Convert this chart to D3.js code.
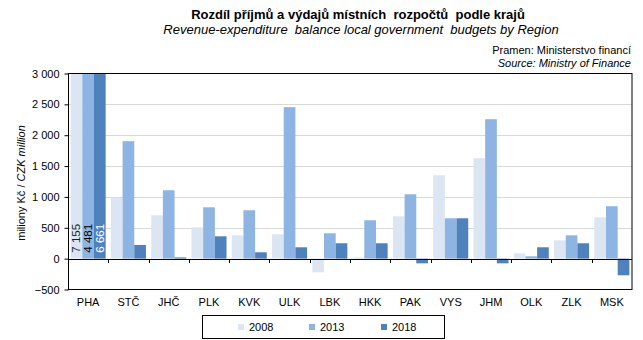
<!DOCTYPE html>
<html><head><meta charset="utf-8">
<script src="https://cdn.jsdelivr.net/npm/d3@7"></script>
<style>
body{margin:0;background:#fff;}
svg{display:block;font-family:"Liberation Sans",Arial,sans-serif;}
</style></head>
<body><svg id="c" width="643" height="340"></svg>
<script>
const categories = ["PHA","STČ","JHČ","PLK","KVK","ULK","LBK","HKK","PAK","VYS","JHM","OLK","ZLK","MSK"];
const seriesNames = ["2008","2013","2018"];
const values2008 = [7155, 984, 703, 508, 378, 395, -222, 20, 686, 1351, 1627, 86, 297, 670];
const values2013 = [4481, 1903, 1108, 832, 784, 2454, 411, 622, 1043, 654, 2259, 38, 378, 849];
const values2018 = [6661, 222, 20, 362, 103, 184, 249, 249, -76, 654, -76, 184, 249, -270];
const yTicks = [-500, 0, 500, 1000, 1500, 2000, 2500, 3000];
const colors = ["#dce6f2", "#8db4e2", "#4f81bd"];
const labelColors = ["#1a1a2e", "#000000", "#ffffff"];

const seriesValues = [values2008, values2013, values2018];
const svg = d3.select("#c");
const L = 68, R = 632, T = 73.5, B = 289.5;

const x0 = d3.scaleBand().domain(categories).range([L, R]).padding(0);
const bw = x0.bandwidth();
const gap = bw * 0.15 / 1.15 / 2;
const x1 = d3.scaleBand().domain(seriesNames).range([gap, bw - gap]).padding(0);
const y = d3.scaleLinear().domain([-500, 3000]).range([B, T]);
const fmt = v => d3.format(",")(v).replace(/,/g, " ");

// gridlines
svg.append("g").selectAll("line").data(yTicks.filter(t => t > -500 && t < 3000 && t !== 0)).join("line")
  .attr("x1", L).attr("x2", R).attr("y1", d => Math.round(y(d)) + 0.5).attr("y2", d => Math.round(y(d)) + 0.5)
  .attr("stroke", "#d9d9d9").attr("stroke-width", 1);

// bars
const g = svg.append("g");
seriesNames.forEach((s, si) => {
  g.selectAll(".b" + si).data(categories).join("rect")
    .attr("x", c => x0(c) + x1(s))
    .attr("width", x1.bandwidth())
    .attr("y", (c, i) => y(Math.min(3000, Math.max(0, seriesValues[si][i]))))
    .attr("height", (c, i) => Math.abs(y(Math.min(3000, seriesValues[si][i])) - y(0)))
    .attr("fill", colors[si]);
});

// labels for clipped bars (values beyond axis max)
seriesNames.forEach((s, si) => {
  categories.forEach((c, i) => {
    const v = seriesValues[si][i];
    if (v > 3000) {
      const cx = x0(c) + x1(s) + x1.bandwidth() / 2;
      const by = y(0) - 6;
      svg.append("text").attr("transform", `translate(${cx + 4},${by}) rotate(-90)`)
        .attr("font-size", 11.5).attr("fill", labelColors[si]).text(fmt(v));
    }
  });
});

// zero line
svg.append("line").attr("x1", L).attr("x2", R).attr("y1", Math.round(y(0)) + 0.5).attr("y2", Math.round(y(0)) + 0.5)
  .attr("stroke", "#000");
// category ticks on zero line
svg.append("g").selectAll("line").data(categories.slice(1)).join("line")
  .attr("x1", c => Math.round(x0(c)) + 0.5).attr("x2", c => Math.round(x0(c)) + 0.5)
  .attr("y1", Math.round(y(0))).attr("y2", Math.round(y(0)) + 4).attr("stroke", "#000");

// plot border
svg.append("rect").attr("x", L + 0.5).attr("y", T).attr("width", R - L - 0.5).attr("height", B - T)
  .attr("fill", "none").attr("stroke", "#000");

// y axis
const ya = d3.axisLeft(y).tickValues(yTicks).tickSize(4).tickFormat(fmt);
const yg = svg.append("g").attr("transform", `translate(${L + 0.5},0)`).call(ya);
yg.select(".domain").remove();
yg.selectAll("line").attr("stroke", "#000");
yg.selectAll("text").attr("font-size", 11).attr("fill", "#000").attr("x", -9)
  .style("font-family", "'Liberation Sans',Arial,sans-serif");

// category labels
svg.append("g").selectAll("text").data(categories).join("text")
  .attr("x", c => x0(c) + bw / 2).attr("y", 306).attr("text-anchor", "middle")
  .attr("font-size", 11).attr("fill", "#000").text(c => c);

// y axis title
const yt = svg.append("text").attr("transform", "translate(25,183) rotate(-90)")
  .attr("text-anchor", "middle").attr("font-size", 11).attr("fill", "#000");
yt.append("tspan").text("miliony Kč / ");
yt.append("tspan").attr("font-style", "italic").text("CZK million");

// titles
svg.append("text").attr("x", 358).attr("y", 19).attr("text-anchor", "middle")
  .attr("font-size", 13).attr("font-weight", "bold").attr("fill", "#000")
  .text("Rozdíl příjmů a výdajů místních  rozpočtů  podle krajů").style("white-space", "pre");
svg.append("text").attr("x", 361).attr("y", 34).attr("text-anchor", "middle")
  .attr("font-size", 13).attr("font-style", "italic").attr("fill", "#000")
  .text("Revenue-expenditure  balance local government  budgets by Region").style("white-space", "pre");
svg.append("text").attr("x", 631).attr("y", 54).attr("text-anchor", "end")
  .attr("font-size", 11).attr("fill", "#000").text("Pramen: Ministerstvo financí");
svg.append("text").attr("x", 631).attr("y", 67).attr("text-anchor", "end")
  .attr("font-size", 11).attr("font-style", "italic").attr("fill", "#000").text("Source: Ministry of Finance");

// legend
svg.append("rect").attr("x", 202.5).attr("y", 315.5).attr("width", 242).attr("height", 23)
  .attr("fill", "#fff").attr("stroke", "#000");
const lx = [238, 309, 381];
seriesNames.forEach((s, i) => {
  svg.append("rect").attr("x", lx[i]).attr("y", 324).attr("width", 6).attr("height", 6).attr("fill", colors[i]);
  svg.append("text").attr("x", lx[i] + 11).attr("y", 331).attr("font-size", 11).attr("fill", "#000").text(s);
});
</script></body></html>
